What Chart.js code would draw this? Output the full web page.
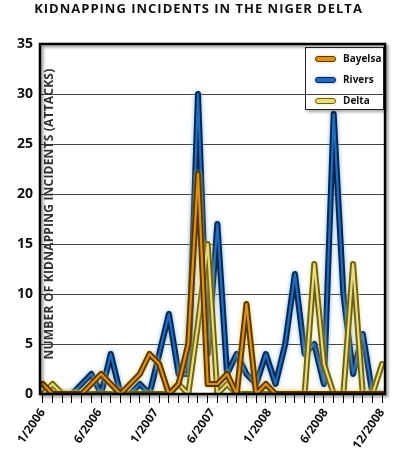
<!DOCTYPE html>
<html>
<head>
<meta charset="utf-8">
<script src="https://cdn.jsdelivr.net/npm/chart.js@4/dist/chart.umd.min.js"></script>
<style>
  html, body { margin: 0; padding: 0; background: #fff; }
  #wrap { position: relative; width: 397px; height: 462px; }
  #legend {
    position: absolute; left: 305px; top: 47px; width: 77px; height: 61px;
    border: 1px solid #222; box-shadow: 2px 2px 3px rgba(0,0,0,0.35);
    font: bold 10px "Open Sans", sans-serif; color: #111;
  }
  .row { height: 21px; line-height: 21px; display: flex; align-items: center; }
  .swatch { width: 19px; height: 4px; border-radius: 3px; margin-left: 9px; margin-right: 7px; border-width: 1.5px; border-style: solid; }
</style>
</head>
<body>
<div id="wrap">
  <canvas id="grafico" width="397" height="462"></canvas>
  <div id="legend"></div>
</div>
<script>
// monthly categories, 1/2006 .. 12/2008
const months = [
  '1/2006','2/2006','3/2006','4/2006','5/2006','6/2006','7/2006','8/2006','9/2006','10/2006','11/2006','12/2006',
  '1/2007','2/2007','3/2007','4/2007','5/2007','6/2007','7/2007','8/2007','9/2007','10/2007','11/2007','12/2007',
  '1/2008','2/2008','3/2008','4/2008','5/2008','6/2008','7/2008','8/2008','9/2008','10/2008','11/2008','12/2008'
];
const xTickLabels = ['1/2006','6/2006','1/2007','6/2007','1/2008','6/2008','12/2008'];
const seriesNames = ['Bayelsa', 'Rivers', 'Delta'];

const bayelsa = [1,0,0,0,0,1,2,1,0,1,2,4,3,0,1,5,22,1,1,2,0,9,0,1,0,0,0,0,0,0,0,0,0,0,0,0];
const rivers  = [0,0,0,0,1,2,0,4,0,0,1,0,4,8,2,2,30,4,17,2,4,2,1,4,1,5,12,4,5,1,28,10,2,6,0,0];
const delta   = [0,1,0,0,0,0,0,0,0,0,0,0,0,0,1,0,7,15,0,1,0,0,0,0,0,0,0,0,13,3,0,0,13,0,0,3];

const chartTitle = 'KIDNAPPING INCIDENTS IN THE NIGER DELTA';
const yTitle = 'NUMBER OF KIDNAPPING INCIDENTS (ATTACKS)';

const estilos = {
  Bayelsa: { dark: '#5b3606', light: '#d99420', glow: 'rgba(230,190,60,0.8)' },
  Rivers:  { dark: '#0a2548', light: '#1f6cc0', glow: 'rgba(90,160,230,0.8)' },
  Delta:   { dark: '#6a6118', light: '#e8dc7c', glow: 'rgba(230,215,110,0.8)' }
};

const valores = { Bayelsa: bayelsa, Rivers: rivers, Delta: delta };
const puntos = arr => months.map((m, i) => ({ x: i, y: arr[i] }));

// draw order: Bayelsa on top, then Delta, Rivers at the back
const orden = ['Bayelsa', 'Delta', 'Rivers'];
const datasets = [];
orden.forEach(nombre => {
  const e = estilos[nombre];
  datasets.push({ label: nombre, data: puntos(valores[nombre]), borderColor: e.light, borderWidth: 2.2,
    pointRadius: 0, tension: 0, borderJoinStyle: 'round', borderCapStyle: 'round' });
  datasets.push({ label: nombre + ' borde', data: puntos(valores[nombre]), borderColor: e.dark, borderWidth: 6,
    pointRadius: 0, tension: 0, borderJoinStyle: 'round', borderCapStyle: 'round', glow: e.glow });
});

const labelPos = xTickLabels.map((t, k) => (months.length - 1) * k / (xTickLabels.length - 1));

const glowPlugin = {
  id: 'glow',
  beforeDatasetDraw(chart, args) {
    const ds = chart.data.datasets[args.index];
    if (ds.glow) {
      chart.ctx.save();
      chart.ctx.shadowColor = ds.glow;
      chart.ctx.shadowBlur = 4;
    }
  },
  afterDatasetDraw(chart, args) {
    if (chart.data.datasets[args.index].glow) chart.ctx.restore();
  }
};

const textos = {
  id: 'textos',
  beforeDatasetsDraw(chart) {
    const { ctx, chartArea } = chart;
    // chart title
    ctx.save();
    ctx.font = 'bold 13px "Open Sans"';
    ctx.letterSpacing = '1px';
    ctx.fillStyle = '#111';
    ctx.textAlign = 'center';
    ctx.textBaseline = 'middle';
    ctx.fillText(chartTitle, chart.width / 2, 9);
    ctx.restore();
    // y axis title, inside the plot
    ctx.save();
    ctx.translate(chartArea.left + 10, (chartArea.top + chartArea.bottom) / 2 - 5);
    ctx.rotate(-Math.PI / 2);
    ctx.font = 'bold 12px "Open Sans"';
    ctx.letterSpacing = '0.2px';
    ctx.fillStyle = '#333';
    ctx.textAlign = 'center';
    ctx.textBaseline = 'middle';
    ctx.fillText(yTitle, 0, 0);
    ctx.restore();
  }
};

const frame = {
  id: 'frame',
  afterDatasetsDraw(chart) {
    const { ctx, chartArea: a } = chart;
    ctx.save();
    ctx.shadowColor = 'rgba(0,0,0,0.45)';
    ctx.shadowBlur = 3;
    ctx.shadowOffsetX = 2;
    ctx.shadowOffsetY = 2;
    ctx.lineWidth = 2.5;
    ctx.strokeStyle = '#000';
    ctx.strokeRect(a.left, a.top, a.right - a.left, a.bottom - a.top);
    ctx.restore();
  }
};

new Chart(document.getElementById('grafico'), {
  type: 'line',
  data: { datasets: datasets },
  options: {
    responsive: false,
    animation: false,
    layout: { padding: { left: 0, right: 7, top: 44, bottom: 0 } },
    plugins: {
      legend: { display: false },
      tooltip: { enabled: false },
      title: { display: false }
    },
    scales: {
      x: {
        type: 'linear', min: -0.3, max: months.length - 1 + 0.3,
        afterBuildTicks: scale => {
          const t = months.map((m, i) => i);
          labelPos.forEach(p => { if (!Number.isInteger(p)) t.push(p); });
          t.sort((a, b) => a - b);
          scale.ticks = t.map(v => ({ value: v }));
        },
        afterFit: scale => { scale.height = 68; },
        grid: {
          display: true, drawOnChartArea: false, drawTicks: true, tickLength: 9,
          tickColor: ctx => (ctx.tick && Number.isInteger(ctx.tick.value)) ? '#000' : 'rgba(0,0,0,0)',
          lineWidth: 1
        },
        border: { display: false },
        ticks: {
          autoSkip: false, minRotation: 55, maxRotation: 55, padding: 3, color: '#111',
          font: { family: 'Open Sans', size: 12, weight: 'bold' },
          callback: v => {
            const k = labelPos.findIndex(p => Math.abs(p - v) < 1e-6);
            return k >= 0 ? xTickLabels[k] : '';
          }
        }
      },
      y: {
        min: 0, max: 35,
        afterFit: scale => { scale.width = 40; },
        grid: { color: '#444', lineWidth: 1, drawTicks: false },
        border: { display: false },
        ticks: {
          stepSize: 5, padding: 7, color: '#111',
          font: { family: 'Open Sans', size: 14, weight: 'bold' }
        }
      }
    }
  },
  plugins: [glowPlugin, textos, frame]
});

// legend
const leyenda = document.getElementById('legend');
seriesNames.forEach(nombre => {
  const row = document.createElement('div');
  row.className = 'row';
  const sw = document.createElement('span');
  sw.className = 'swatch';
  sw.style.background = estilos[nombre].light;
  sw.style.borderColor = estilos[nombre].dark;
  sw.style.boxShadow = '0 0 3px ' + estilos[nombre].glow;
  const txt = document.createElement('span');
  txt.textContent = nombre;
  row.appendChild(sw);
  row.appendChild(txt);
  leyenda.appendChild(row);
});
</script>
</body>
</html>
